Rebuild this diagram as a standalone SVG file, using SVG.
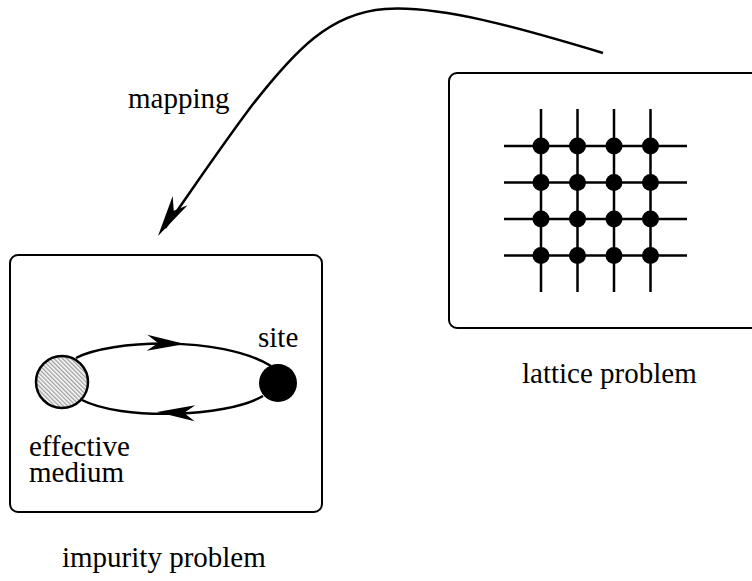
<svg xmlns="http://www.w3.org/2000/svg" width="752" height="581" viewBox="0 0 752 581">
  <style>
    .lbl { font-family: 'Liberation Serif', 'Times New Roman', Times, 'DejaVu Serif', serif; font-size: 29px; fill: #000; }
    .frame { fill: none; stroke: #000; stroke-width: 2; }
    .wire { fill: none; stroke: #000; stroke-width: 2.5; }
    .curve { fill: none; stroke: #000; stroke-width: 2.5; }
    .site { fill: #000; }
  </style>
  <defs>
    <!-- diagonal hatching for the effective medium -->
    <pattern id="hatch" width="3" height="3" patternUnits="userSpaceOnUse" patternTransform="rotate(-45)">
      <rect width="3" height="3" fill="#fff"/>
      <line x1="0.8" y1="0" x2="0.8" y2="3" stroke="#666" stroke-width="0.9"/>
    </pattern>
    <!-- indented arrowhead, tip at origin, pointing along +x -->
    <path id="arrowhead" d="M0,0 L-38,-8 L-27,0 L-38,8 Z" fill="#000"/>
  </defs>

  <!-- impurity problem -->
  <g id="impurity-problem">
    <rect class="frame" x="10" y="255" width="312" height="257" rx="8"/>
    <circle cx="62" cy="382" r="26" fill="url(#hatch)" stroke="#000" stroke-width="2.5"/>
    <circle class="site" cx="278" cy="383" r="19"/>
    <text class="lbl" font-family="Liberation Serif, serif" x="258" y="347">site</text>
    <text class="lbl" font-family="Liberation Serif, serif" x="29" y="456">effective</text>
    <text class="lbl" font-family="Liberation Serif, serif" x="29" y="482">medium</text>
    <text class="lbl" font-family="Liberation Serif, serif" x="62" y="567">impurity problem</text>
  </g>

  <!-- lattice problem -->
  <g id="lattice-problem">
    <rect class="frame" x="449" y="73" width="320" height="255" rx="8"/>
    <g class="wire">
      <line x1="541" y1="109" x2="541" y2="292"/>
      <line x1="577.5" y1="109" x2="577.5" y2="292"/>
      <line x1="614" y1="109" x2="614" y2="292"/>
      <line x1="650.5" y1="109" x2="650.5" y2="292"/>
      <line x1="504" y1="146" x2="687" y2="146"/>
      <line x1="504" y1="182.5" x2="687" y2="182.5"/>
      <line x1="504" y1="219" x2="687" y2="219"/>
      <line x1="504" y1="255.5" x2="687" y2="255.5"/>
    </g>
    <g class="site">
      <circle cx="541" cy="146" r="8.5"/><circle cx="577.5" cy="146" r="8.5"/><circle cx="614" cy="146" r="8.5"/><circle cx="650.5" cy="146" r="8.5"/>
      <circle cx="541" cy="182.5" r="8.5"/><circle cx="577.5" cy="182.5" r="8.5"/><circle cx="614" cy="182.5" r="8.5"/><circle cx="650.5" cy="182.5" r="8.5"/>
      <circle cx="541" cy="219" r="8.5"/><circle cx="577.5" cy="219" r="8.5"/><circle cx="614" cy="219" r="8.5"/><circle cx="650.5" cy="219" r="8.5"/>
      <circle cx="541" cy="255.5" r="8.5"/><circle cx="577.5" cy="255.5" r="8.5"/><circle cx="614" cy="255.5" r="8.5"/><circle cx="650.5" cy="255.5" r="8.5"/>
    </g>
    <text class="lbl" font-family="Liberation Serif, serif" x="522" y="383">lattice problem</text>
  </g>

  <!-- connectors -->
  <g id="connectors">
    <!-- hopping between medium and site -->
    <path class="curve" d="M76,358 C110,340 220,335 271,366"/>
    <use href="#arrowhead" transform="translate(185,344) rotate(2)"/>
    <path class="curve" d="M82,400 C120,420 225,418 263,396"/>
    <use href="#arrowhead" transform="translate(157,412) rotate(182)"/>
    <!-- mapping from lattice to impurity -->
    <path class="curve" d="M603,53 C520,28 440,5 385,9 C330,13 295,50 250,108 C215,155 185,200 165,228"/>
    <use href="#arrowhead" transform="translate(158,236) rotate(122) scale(1.1)"/>
    <text class="lbl" font-family="Liberation Serif, serif" x="128" y="108">mapping</text>
  </g>
</svg>
